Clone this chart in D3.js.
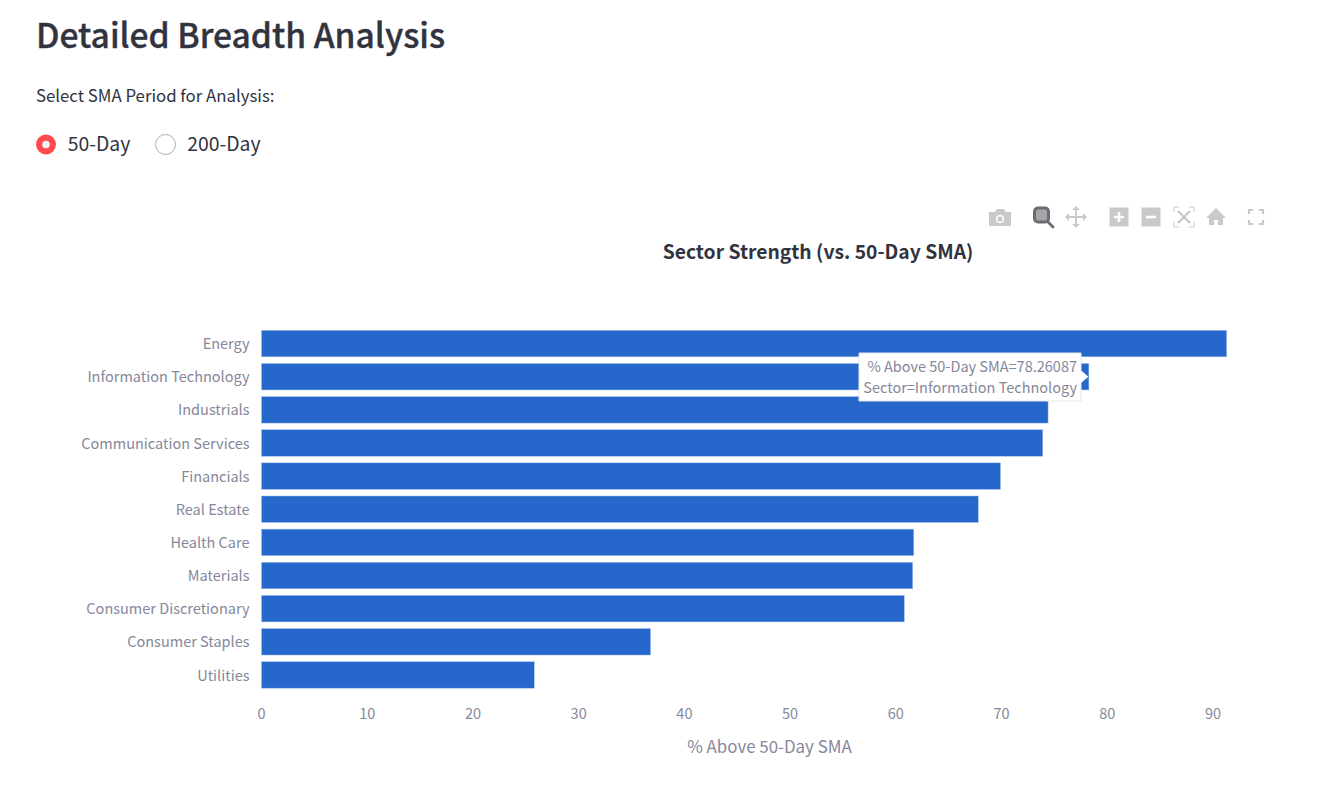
<!DOCTYPE html>
<html>
<head>
<meta charset="utf-8">
<script src="https://cdn.jsdelivr.net/npm/d3@7"></script>
<style>
  html, body { margin: 0; padding: 0; background: #fff; overflow: hidden; }
  svg { display: block; }
  text { font-family: "Noto Sans CJK SC", "Noto Sans", sans-serif; }
  .axis .domain, .axis .tick line { display: none; }
  .axis text { fill: #85879b; font-size: 14.5px; }
</style>
</head>
<body>
<svg id="page" width="1331" height="809"></svg>
<script>
const sectors = ["Energy", "Information Technology", "Industrials", "Communication Services", "Financials",
    "Real Estate", "Health Care", "Materials", "Consumer Discretionary", "Consumer Staples", "Utilities"];
const pctAbove = [91.3, 78.26087, 74.4, 73.9, 69.9, 67.8, 61.7, 61.6, 60.8, 36.8, 25.8];
const xTicks = [0, 10, 20, 30, 40, 50, 60, 70, 80, 90];
const periods = ["50-Day", "200-Day"];

const textDark = "#31333f";
const textGrey = "#85879b";
const iconGrey = "#c9c9c9";
const barColor = "#2567cb";

const svg = d3.select("#page");

// page header
svg.append("text").attr("x", 36).attr("y", 47.5)
    .attr("font-size", 33.6).attr("font-weight", 500).attr("fill", textDark)
    .attr("stroke", textDark).attr("stroke-width", 0.35)
    .text("Detailed Breadth Analysis");

svg.append("text").attr("x", 36).attr("y", 101.5)
    .attr("font-size", 16.8).attr("fill", textDark)
    .text("Select SMA Period for Analysis:");

// radio buttons
const radioX = [46, 165.5];
periods.forEach((p, i) => {
    const g = svg.append("g").attr("transform", `translate(${radioX[i]},144.5)`);
    if (i === 0) {
        g.append("circle").attr("r", 10).attr("fill", "#ff4b4b");
        g.append("circle").attr("r", 3.8).attr("fill", "#f0f2f6");
    } else {
        g.append("circle").attr("r", 10).attr("fill", "#fff").attr("stroke", "#a9abb8").attr("stroke-width", 1);
    }
    svg.append("text").attr("x", radioX[i] + 21.7).attr("y", 151)
        .attr("font-size", 19.4).attr("fill", textDark).text(p);
});

// modebar icons
const bar = svg.append("g").attr("class", "modebar");
const cam = bar.append("g").attr("transform", "translate(1000,218)");
cam.append("path").attr("fill", iconGrey)
    .attr("d", "M-11,-6 H-5 L-3,-9 H4 L6,-6 H11 V8 H-11 Z");
cam.append("circle").attr("r", 4.2).attr("cy", 1).attr("fill", "#fff");
cam.append("circle").attr("r", 2.6).attr("cy", 1).attr("fill", iconGrey);

const zoomIcon = bar.append("g").attr("transform", "translate(1042,215)").attr("fill", "none");
zoomIcon.append("rect").attr("x", -7.5).attr("y", -7).attr("width", 14).attr("height", 14).attr("rx", 3.5)
    .attr("stroke", "#6b6b70").attr("stroke-width", 3).attr("fill", "#a6a6aa");
zoomIcon.append("line").attr("x1", 6).attr("y1", 7).attr("x2", 11).attr("y2", 12)
    .attr("stroke", "#6b6b70").attr("stroke-width", 2.8).attr("stroke-linecap", "round");

const pan = bar.append("g").attr("transform", "translate(1076,217)");
pan.append("path").attr("stroke", iconGrey).attr("stroke-width", 1.8).attr("d", "M-9,0 H9 M0,-9 V9");
pan.append("path").attr("fill", iconGrey)
    .attr("d", "M-11,0 L-7,-4 V4 Z M11,0 L7,-4 V4 Z M0,-11 L-4,-7 H4 Z M0,11 L-4,7 H4 Z");

[[1119, true], [1151, false]].forEach(([x, plus]) => {
    const g = bar.append("g").attr("transform", `translate(${x},217)`);
    g.append("rect").attr("x", -9.5).attr("y", -9.5).attr("width", 19).attr("height", 19).attr("fill", iconGrey);
    g.append("path").attr("stroke", "#fff").attr("stroke-width", 2.6)
        .attr("d", plus ? "M-5,0 H5 M0,-5 V5" : "M-5,0 H5");
});

const autoscale = bar.append("g").attr("transform", "translate(1184,217)").attr("fill", "none").attr("stroke", iconGrey);
autoscale.append("path").attr("stroke-width", 1)
    .attr("d", "M-10,-5 V-10 H-5 M5,-10 H10 V-5 M10,5 V10 H5 M-5,10 H-10 V5");
autoscale.append("path").attr("stroke-width", 2.4).attr("d", "M-6,-6 L6,6 M6,-6 L-6,6");

bar.append("path").attr("transform", "translate(1216,217)").attr("fill", iconGrey)
    .attr("d", "M0,-9 L10,1 H7 V8 H2 V3 H-2 V8 H-7 V1 H-10 Z");

bar.append("path").attr("transform", "translate(1256,217)").attr("fill", "none")
    .attr("stroke", iconGrey).attr("stroke-width", 2.2)
    .attr("d", "M-7,-3 V-7 H-3 M3,-7 H7 V-3 M7,3 V7 H3 M-3,7 H-7 V3");

// chart
const xScale = d3.scaleLinear().domain([0, 90]).range([261.5, 1213]);
const yScale = d3.scaleBand().domain(sectors).range([327, 691.5]).paddingInner(0.2).paddingOuter(0.1);

svg.append("text").attr("x", 818).attr("y", 259).attr("text-anchor", "middle")
    .attr("font-size", 19.3).attr("font-weight", 700).attr("fill", textDark)
    .text("Sector Strength (vs. 50-Day SMA)");

svg.append("g").selectAll("rect")
    .data(sectors)
    .join("rect")
    .attr("x", xScale(0))
    .attr("y", d => yScale(d))
    .attr("width", (d, i) => xScale(pctAbove[i]) - xScale(0))
    .attr("height", yScale.bandwidth())
    .attr("fill", barColor)
    .attr("stroke", "#a6c3ec")
    .attr("stroke-width", 0.5);

svg.append("g").attr("class", "axis")
    .attr("transform", `translate(${xScale(0)},1)`)
    .call(d3.axisLeft(yScale).tickSize(0).tickPadding(12));

svg.append("g").attr("class", "axis")
    .attr("transform", "translate(-0.5,703)")
    .call(d3.axisBottom(xScale).tickValues(xTicks).tickSize(0).tickPadding(6));

svg.append("text").attr("x", 769.5).attr("y", 753).attr("text-anchor", "middle")
    .attr("font-size", 16.9).attr("fill", textGrey)
    .text("% Above 50-Day SMA");

// hover label on Information Technology
const hoverIdx = 1;
const tipRight = 1081;
const tipMid = yScale(sectors[hoverIdx]) + yScale.bandwidth() / 2;
const tip = svg.append("g");
tip.append("path")
    .attr("d", `M859,353 H${tipRight} V${tipMid - 6} L${tipRight + 7},${tipMid} L${tipRight},${tipMid + 6} V401 H859 Z`)
    .attr("fill", "#fff").attr("stroke", "#e3e6f2").attr("stroke-width", 1);
tip.append("text").attr("x", 1077).attr("y", 372).attr("text-anchor", "end")
    .attr("font-size", 14.5).attr("fill", textGrey)
    .text(`% Above 50-Day SMA=${d3.format(".7")(pctAbove[hoverIdx])}`);
tip.append("text").attr("x", 1077).attr("y", 393).attr("text-anchor", "end")
    .attr("font-size", 14.5).attr("fill", textGrey)
    .text(`Sector=${sectors[hoverIdx]}`);
</script>
</body>
</html>
